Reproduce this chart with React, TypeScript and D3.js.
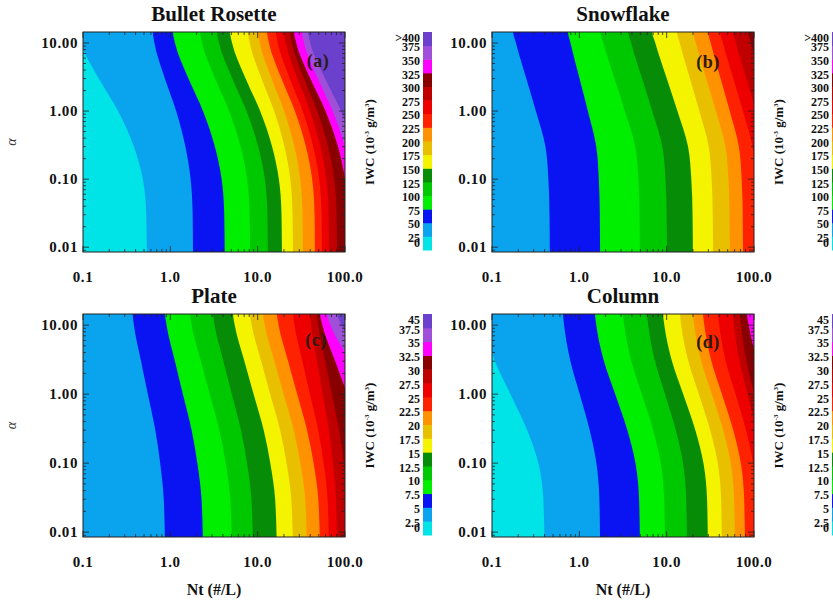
import React, { useLayoutEffect } from 'react';
import * as d3 from 'd3';

// ---------- data ----------
const NT_TICKS = [0.1, 1, 10, 100];
const NT_TICK_LABELS = ['0.1', '1.0', '10.0', '100.0'];
const ALPHA_TICKS = [0.01, 0.1, 1, 10];
const ALPHA_TICK_LABELS = ['0.01', '0.10', '1.00', '10.00'];

const LEVELS_LARGE = ['0', '25', '50', '75', '100', '125', '150', '175', '200', '225', '250', '275', '300', '325', '350', '375', '>400'];
const LEVELS_SMALL = ['0', '2.5', '5', '7.5', '10', '12.5', '15', '17.5', '20', '22.5', '25', '27.5', '30', '32.5', '35', '37.5', '45'];

const BAND_COLORS = [
  '#00e4e8', '#0aa4ee', '#0a14f2', '#00ee00', '#00c800', '#068c06',
  '#f4f400', '#e8c000', '#ff9200', '#ff2200', '#ee0000', '#c00000',
  '#880000', '#ff00ff', '#a050d8', '#6a40cc',
];

// alpha rows at which the contour boundaries were read
const ALPHA_ROWS = [0.005, 0.03, 0.1, 0.3, 1, 3, 10, 15, 25];

// Nt (#/L) where each level boundary (level 1..15) crosses the bottom (alpha≈0.01) and the top (alpha≈14)
const BULLET_BOTTOM = [0.54, 1.82, 4.2, 8.2, 13.1, 19.0, 25.4, 33.0, 45.4, 54.5, 65.6, 81, 109, 130, 169];
const BULLET_TOP = [0.088, 0.63, 1.07, 2.19, 3.42, 4.82, 7.75, 10.1, 12.8, 16.2, 20.0, 23.4, 26.1, 32.2, 37.7];
const BULLET_SHAPE = [0, 0.01, 0.06, 0.19, 0.42, 0.7, 0.96, 1, 1];

const SNOW_BOTTOM = [0.06, 0.46, 1.73, 4.95, 10.1, 20, 34, 53, 75, 108, 152, 226, 340, 500, 740];
const SNOW_TOP = [0.02, 0.174, 0.74, 1.73, 3.61, 6.8, 13.1, 20, 29.7, 40.8, 57.5, 85.4, 124, 180, 260];
const SNOW_SHAPE = [0, 0.01, 0.04, 0.12, 0.38, 0.64, 0.92, 1, 1];

const PLATE_BOTTOM = [0.06, 0.87, 2.37, 5.08, 8.85, 16.6, 25.4, 36.7, 51.8, 65.6, 81.1, 110, 240, 660, 1600];
const PLATE_TOP = [0.02, 0.37, 0.87, 1.68, 3.08, 5.22, 8.17, 11.5, 16.6, 25.4, 39.7, 47.8, 51.8, 62.2, 81.1];
const PLATE_SHAPE = [0, 0.04, 0.15, 0.3, 0.53, 0.74, 0.96, 1, 1];

const COLUMN_BOTTOM = [0.4, 1.73, 4.95, 9.57, 17.1, 29.7, 43, 60.6, 78.9, 108, 135, 160, 350, 600, 1000];
const COLUMN_TOP = [0.078, 0.65, 1.51, 3.16, 5.96, 9.08, 14.2, 20, 26.1, 38.7, 57.5, 69.2, 83.2, 117, 200];
const COLUMN_SHAPE = [0, 0.02, 0.1, 0.28, 0.55, 0.8, 0.97, 1, 1];

const TITLES = ['Bullet Rosette', 'Snowflake', 'Plate', 'Column'];
const TAGS = ['(a)', '(b)', '(c)', '(d)'];

// ---------- layout ----------
const FONT = "'Liberation Serif', 'Times New Roman', serif";
const PLOT_W = 262;
const NT_DOMAIN: [number, number] = [0.1, 100];
const ALPHA_DOMAIN: [number, number] = [0.0085, 14.5];

interface PanelSpec {
  left: number; top: number; h: number;
  title: string; tag: string; tagX: number; tagY: number;
  bottom: number[]; topv: number[]; shape: number[];
  levels: string[]; yTitle: boolean; xTitle: boolean;
}

const PANELS: PanelSpec[] = [
  { left: 83, top: 32, h: 220, title: TITLES[0], tag: TAGS[0], tagX: 318, tagY: 61, bottom: BULLET_BOTTOM, topv: BULLET_TOP, shape: BULLET_SHAPE, levels: LEVELS_LARGE, yTitle: true, xTitle: false },
  { left: 492, top: 32, h: 220, title: TITLES[1], tag: TAGS[1], tagX: 708, tagY: 62, bottom: SNOW_BOTTOM, topv: SNOW_TOP, shape: SNOW_SHAPE, levels: LEVELS_LARGE, yTitle: false, xTitle: false },
  { left: 83, top: 314, h: 223, title: TITLES[2], tag: TAGS[2], tagX: 316, tagY: 340, bottom: PLATE_BOTTOM, topv: PLATE_TOP, shape: PLATE_SHAPE, levels: LEVELS_SMALL, yTitle: true, xTitle: true },
  { left: 492, top: 314, h: 223, title: TITLES[3], tag: TAGS[3], tagX: 708, tagY: 342, bottom: COLUMN_BOTTOM, topv: COLUMN_TOP, shape: COLUMN_SHAPE, levels: LEVELS_SMALL, yTitle: false, xTitle: true },
];

function minorTicks(lo: number, hi: number): number[] {
  const out: number[] = [];
  for (let e = -3; e <= 3; e++) {
    for (let m = 1; m < 10; m++) {
      const v = m * Math.pow(10, e);
      if (v >= lo * 0.9999 && v <= hi * 1.0001) out.push(v);
    }
  }
  return out;
}

function Panel({ p, idx }: { p: PanelSpec; idx: number }) {
  const x = d3.scaleLog().domain(NT_DOMAIN).range([p.left, p.left + PLOT_W]);
  const y = d3.scaleLog().domain(ALPHA_DOMAIN).range([p.top + p.h, p.top]);
  const right = p.left + PLOT_W;
  const bottomY = p.top + p.h;
  const area = d3
    .area<[number, number]>()
    .y((d) => y(d[1]))
    .x0((d) => Math.max(x(d[0]), p.left - 60))
    .x1(right + 40)
    .curve(d3.curveMonotoneY);

  const clipId = `clip-${idx}`;
  const bands = p.bottom.map((b, k) => {
    const lb = Math.log10(b);
    const lt = Math.log10(p.topv[k]);
    const pts: [number, number][] = ALPHA_ROWS.map((a, j) => [Math.pow(10, lb + (lt - lb) * p.shape[j]), a]);
    return <path key={k} d={area(pts) || ''} fill={BAND_COLORS[k + 1]} />;
  });

  const xMinor = minorTicks(NT_DOMAIN[0], NT_DOMAIN[1]);
  const yMinor = minorTicks(ALPHA_DOMAIN[0], ALPHA_DOMAIN[1]);
  const isMajor = (v: number) => Math.abs(Math.log10(v) - Math.round(Math.log10(v))) < 1e-6;

  // colorbar
  const cbX = p.left + 340;
  const cbTop = p.top;
  const cbBottom = p.top + p.h - 2;
  const cbH = (cbBottom - cbTop) / 16;
  const cx = p.left + PLOT_W / 2;

  return (
    <g>
      <defs>
        <clipPath id={clipId}>
          <rect x={p.left} y={p.top} width={PLOT_W} height={p.h} />
        </clipPath>
      </defs>
      <g clipPath={`url(#${clipId})`}>
        <rect x={p.left} y={p.top} width={PLOT_W} height={p.h} fill={BAND_COLORS[0]} />
        {bands}
      </g>
      {/* ticks */}
      <g stroke="#222" strokeWidth={0.8}>
        {xMinor.map((v, i) => {
          const len = isMajor(v) ? 6 : 3;
          const xx = x(v);
          return (
            <g key={'xt' + i}>
              <line x1={xx} x2={xx} y1={bottomY} y2={bottomY - len} />
              <line x1={xx} x2={xx} y1={p.top} y2={p.top + len} />
            </g>
          );
        })}
        {yMinor.map((v, i) => {
          const len = isMajor(v) ? 6 : 3;
          const yy = y(v);
          return (
            <g key={'yt' + i}>
              <line x1={p.left} x2={p.left + len} y1={yy} y2={yy} />
              <line x1={right} x2={right - len} y1={yy} y2={yy} />
            </g>
          );
        })}
      </g>
      <rect x={p.left} y={p.top} width={PLOT_W} height={p.h} fill="none" stroke="#222" strokeWidth={1} />

      {/* tick labels */}
      <g fontFamily={FONT} fontWeight="bold" fontSize={15} fill="#111">
        {NT_TICKS.map((v, i) => (
          <text key={'xl' + i} x={x(v)} y={bottomY + 30} textAnchor="middle" letterSpacing={0.6}>
            {NT_TICK_LABELS[i]}
          </text>
        ))}
        {ALPHA_TICKS.map((v, i) => (
          <text key={'yl' + i} x={p.left - 5} y={y(v) + 5} textAnchor="end" letterSpacing={0.6}>
            {ALPHA_TICK_LABELS[i]}
          </text>
        ))}
      </g>

      {/* title */}
      <text x={cx} y={p.top - 11.5} textAnchor="middle" fontFamily={FONT} fontWeight="bold" fontSize={21} fill="#111">
        {p.title}
      </text>
      <text x={p.tagX} y={p.tagY + 6} textAnchor="middle" fontFamily={FONT} fontWeight="bold" fontSize={18} fill="#2a1a10" letterSpacing={0.5}>
        {p.tag}
      </text>

      {p.yTitle && (
        <text transform={`translate(${p.left - 67},${p.top + p.h / 2}) rotate(-90)`} textAnchor="middle" fontFamily={FONT} fontStyle="italic" fontSize={14} fill="#333">
          α
        </text>
      )}
      {p.xTitle && (
        <text x={cx} y={bottomY + 58} textAnchor="middle" fontFamily={FONT} fontWeight="bold" fontSize={16} fill="#111">
          Nt (#/L)
        </text>
      )}

      {/* colorbar */}
      {BAND_COLORS.map((c, k) => (
        <rect key={'cb' + k} x={cbX} y={cbBottom - (k + 1) * cbH} width={9} height={cbH + 0.5} fill={c} />
      ))}
      <g fontFamily={FONT} fontWeight="bold" fontSize={12} fill="#111">
        {p.levels.map((lab, k) => {
          let cy = cbBottom - k * cbH + 1.5;
          if (k === 0) cy = cbBottom - 7;
          if (k === 16) cy = cbTop + 6;
          return (
            <text key={'cl' + k} x={cbX - 3} y={cy + 4.2} textAnchor="end">
              {lab}
            </text>
          );
        })}
      </g>
      <text
        transform={`translate(${p.left + 291},${p.top + p.h / 2}) rotate(-90)`}
        textAnchor="middle"
        fontFamily={FONT}
        fontWeight="bold"
        fontSize={13}
        fill="#111"
      >
        IWC (10
        <tspan dy={-5} fontSize={7}>-3</tspan>
        <tspan dy={5}> g/m</tspan>
        <tspan dy={-5} fontSize={7}>3</tspan>
        <tspan dy={5}>)</tspan>
      </text>
    </g>
  );
}

export default function App() {
  useLayoutEffect(() => {
    document.body.style.margin = '0';
    document.body.style.background = '#ffffff';
  }, []);
  return (
    <svg width={833} height={603} viewBox="0 0 833 603" style={{ display: 'block', background: '#fff' }}>
      <rect x={0} y={0} width={833} height={603} fill="#fff" />
      {PANELS.map((p, i) => (
        <Panel key={i} p={p} idx={i} />
      ))}
    </svg>
  );
}
